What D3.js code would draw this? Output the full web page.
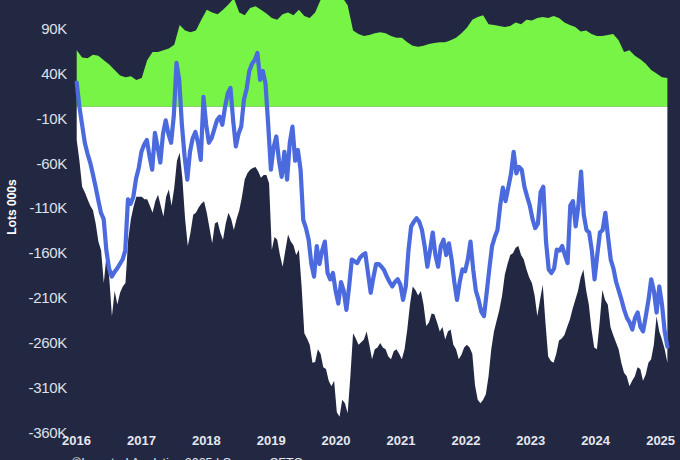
<!DOCTYPE html>
<html>
<head>
<meta charset="utf-8">
<script src="https://cdn.jsdelivr.net/npm/d3@7"></script>
<style>
html,body{margin:0;padding:0;background:#232842;}
svg{display:block;}
</style>
</head>
<body>
<svg id="chart" width="680" height="460"></svg>
<script>
// ---- data (thousands of lots) ----
const startDate = "2016-01-05";
const endDate = "2025-02-11";
const yearTicks = [2016,2017,2018,2019,2020,2021,2022,2023,2024,2025];
const yTickValues = [90,40,-10,-60,-110,-160,-210,-260,-310,-360];

// commercial longs (monthly)
const longK = [63,55,54,58,57,52,47,41,35,33,34,30,32,52,61,61,63,65,69,91,85,83,85,97,108,105,103,108,114,121,105,102,110,112,108,104,99,97,103,105,102,108,101,99,105,119,122,124,121,122,113,85,81,79,80,82,83,82,79,77,77,72,68,67,68,70,71,72,72,74,77,82,88,97,100,102,92,91,90,89,90,94,92,97,96,99,100,99,101,99,94,91,89,84,85,81,79,79,80,81,74,61,63,57,53,48,41,37,33,32];

// commercial shorts (semi-monthly)
const shortK = [-37,-60,-89,-95,-103,-110,-115,-130,-150,-160,-196,-165,-190,-233,-205,-220,-207,-200,-196,-148,-125,-111,-100,-100,-100,-103,-103,-110,-118,-105,-98,-110,-122,-100,-92,-110,-90,-60,-51,-80,-125,-155,-140,-120,-118,-112,-108,-105,-118,-135,-152,-130,-128,-140,-148,-130,-118,-125,-137,-125,-115,-100,-81,-74,-70,-68,-67,-72,-79,-76,-76,-85,-159,-145,-148,-165,-178,-160,-142,-150,-154,-165,-159,-200,-252,-258,-265,-285,-284,-270,-275,-290,-292,-305,-311,-305,-340,-345,-326,-330,-341,-300,-252,-258,-265,-262,-259,-250,-265,-281,-270,-268,-263,-268,-270,-278,-281,-272,-270,-275,-281,-270,-248,-220,-200,-204,-210,-205,-220,-244,-240,-230,-231,-240,-250,-245,-259,-250,-248,-265,-270,-281,-276,-268,-265,-268,-275,-310,-326,-330,-326,-320,-300,-270,-250,-238,-226,-210,-187,-175,-165,-163,-157,-155,-165,-170,-181,-190,-196,-210,-233,-215,-198,-240,-278,-283,-285,-275,-260,-258,-254,-245,-237,-225,-215,-205,-190,-181,-204,-220,-248,-268,-270,-240,-204,-215,-220,-245,-254,-262,-270,-285,-296,-300,-311,-305,-300,-290,-292,-305,-298,-285,-281,-265,-233,-250,-259,-270,-285];

// net position (semi-monthly)
const netK = [27,0,-20,-40,-52,-62,-75,-89,-104,-118,-125,-160,-180,-189,-184,-180,-175,-170,-160,-103,-108,-100,-80,-68,-50,-42,-37,-55,-70,-29,-45,-62,-30,-15,-30,-40,-10,49,30,-20,-55,-81,-50,-35,-28,-40,-59,11,-20,-40,-35,-25,-15,-11,-20,0,15,21,-15,-44,-30,-22,8,20,40,48,52,60,30,40,26,-20,-70,-45,-33,-60,-78,-50,-81,-40,-22,-60,-48,-70,-126,-135,-148,-175,-189,-155,-175,-160,-150,-185,-192,-185,-205,-219,-195,-205,-226,-200,-170,-172,-174,-168,-165,-163,-185,-207,-190,-175,-175,-178,-182,-189,-195,-200,-195,-192,-198,-215,-200,-160,-133,-128,-124,-128,-137,-155,-178,-160,-140,-165,-178,-155,-148,-165,-152,-170,-195,-215,-195,-181,-183,-170,-150,-181,-205,-215,-228,-233,-207,-180,-155,-145,-137,-110,-90,-105,-90,-75,-50,-74,-67,-70,-89,-100,-110,-125,-135,-130,-95,-89,-150,-181,-185,-180,-159,-160,-155,-165,-174,-110,-105,-133,-110,-72,-120,-137,-140,-160,-192,-165,-140,-137,-118,-145,-170,-180,-195,-205,-215,-226,-235,-240,-248,-235,-229,-245,-250,-233,-215,-192,-205,-229,-200,-220,-250,-267];

// ---- drawing ----
const svg = d3.select("#chart");
const W = 680, H = 460;
svg.append("rect").attr("width", W).attr("height", H).attr("fill", "#232842");

const x = d3.scaleTime()
  .domain([new Date(2016,0,1), new Date(2025,0,1)])
  .range([76, 660.1]);
const y = d3.scaleLinear().domain([-360, 90]).range([430.2, 26]);

function withDates(arr){
  const t = d3.scaleLinear().domain([0, arr.length-1])
    .range([new Date(startDate).getTime(), new Date(endDate).getTime()]);
  return arr.map((v,i)=>({d:new Date(t(i)), v:v}));
}
const longData = withDates(longK);
const shortData = withDates(shortK);
const netData = withDates(netK);

const area = d3.area().x(d=>x(d.d)).y0(y(0)).y1(d=>y(d.v));

svg.append("path").datum(longData).attr("d", area).attr("fill", "#78f446");
svg.append("path").datum(shortData).attr("d", area).attr("fill", "#ffffff");

svg.append("path").datum(netData)
  .attr("d", d3.line().x(d=>x(d.d)).y(d=>y(d.v)))
  .attr("fill","none").attr("stroke","#4b6ade").attr("stroke-width",4.2)
  .attr("stroke-linejoin","round").attr("stroke-linecap","round");

// y axis labels
const yAxis = d3.axisLeft(y).tickValues(yTickValues).tickSize(0).tickPadding(0)
  .tickFormat(d=>d+"K");
const gy = svg.append("g").attr("transform","translate(67,2.5)").call(yAxis);
gy.select(".domain").remove();
gy.selectAll("text").attr("fill","#dfe0e8").attr("font-family","Liberation Sans, Arial, sans-serif")
  .attr("font-size",15).attr("letter-spacing","-0.3");

// x axis labels
const xAxis = d3.axisBottom(x).tickValues(yearTicks.map(yr=>new Date(yr,0,1)))
  .tickSize(0).tickPadding(0).tickFormat(d3.timeFormat("%Y"));
const gx = svg.append("g").attr("transform","translate(0,436)").call(xAxis);
gx.select(".domain").remove();
gx.selectAll("text").attr("fill","#e6e7ee").attr("font-family","Liberation Sans, Arial, sans-serif")
  .attr("font-size",13).attr("font-weight","bold");

// y title
svg.append("text").attr("transform","translate(16,207) rotate(-90)")
  .attr("text-anchor","middle").attr("fill","#ffffff")
  .attr("font-family","Liberation Sans, Arial, sans-serif").attr("font-size",12).attr("font-weight","bold")
  .text("Lots 000s");

// credit
svg.append("text").attr("x",72).attr("y",467).attr("fill","#e6e7ee")
  .attr("font-family","Liberation Sans, Arial, sans-serif").attr("font-size",12.5)
  .text("©Invested Analytics 2025 | Source: CFTC");
</script>
</body>
</html>
